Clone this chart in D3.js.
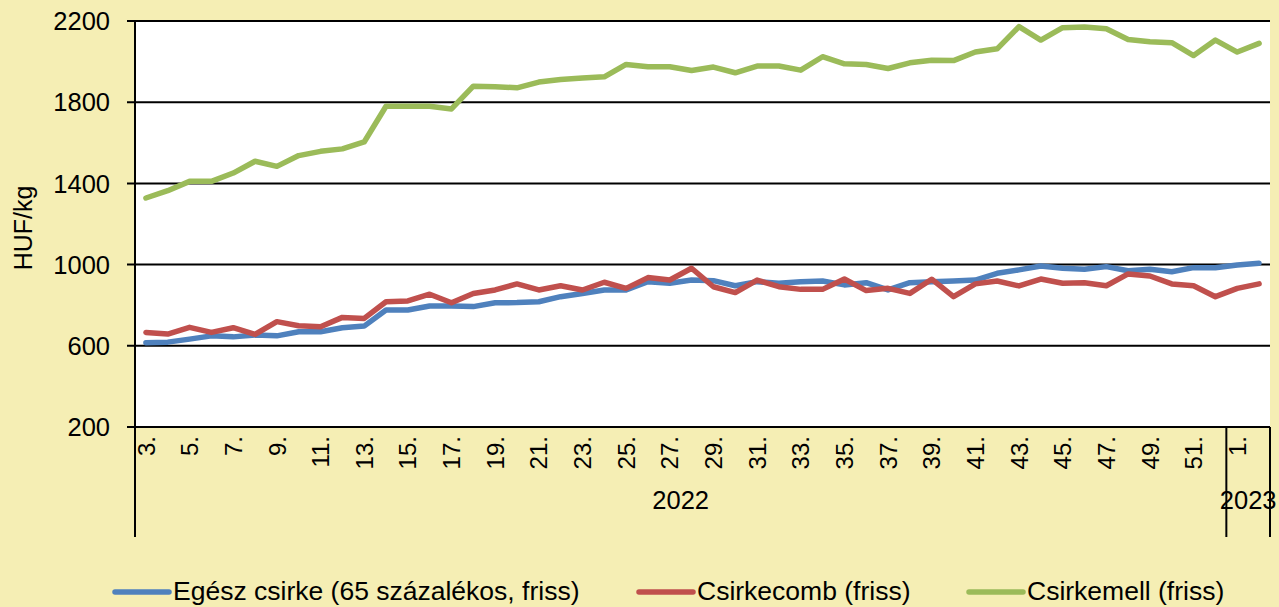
<!DOCTYPE html>
<html>
<head>
<meta charset="utf-8">
<script src="https://cdn.jsdelivr.net/npm/d3@7"></script>
<style>
  body { margin: 0; background: #f5eeb4; }
  svg { display: block; font-family: "Liberation Sans", Arial, sans-serif; }
</style>
</head>
<body>
<div id="chart"></div>
<script>
// weeks: 2022 week 3..52, then 2023 week 1..2
const weeks = ["3.","4.","5.","6.","7.","8.","9.","10.","11.","12.","13.","14.","15.","16.","17.","18.",
  "19.","20.","21.","22.","23.","24.","25.","26.","27.","28.","29.","30.","31.","32.","33.","34.",
  "35.","36.","37.","38.","39.","40.","41.","42.","43.","44.","45.","46.","47.","48.","49.","50.",
  "51.","52.","1.","2."];
const years = ["2022","2023"];
const yearOf = weeks.map((w, i) => i < 50 ? "2022" : "2023");
const yTicks = [200, 600, 1000, 1400, 1800, 2200];

const seriesNames = ["Egész csirke (65 százalékos, friss)", "Csirkecomb (friss)", "Csirkemell (friss)"];

const egesz = [615,618,633,649,644,653,649,669,669,689,697,776,776,796,796,793,812,813,
  817,842,858,875,875,916,908,924,921,896,916,908,916,919,900,911,875,
  911,916,919,924,957,974,993,982,977,990,970,977,965,985,985,998,1007];

const comb = [666,658,691,666,689,656,719,699,694,740,735,817,821,854,812,858,875,905,
  875,896,875,913,883,936,924,982,891,862,924,891,878,878,929,872,883,
  858,928,842,905,919,895,929,908,911,896,954,944,905,896,842,883,905];

const mell = [1328,1364,1410,1410,1451,1509,1484,1537,1558,1570,1604,1780,1780,1780,1767,1879,1876,1871,
  1899,1912,1919,1925,1986,1975,1975,1956,1973,1945,1978,1978,1958,2024,1989,1986,1966,
  1994,2007,2005,2047,2063,2172,2106,2167,2170,2162,2109,2098,2093,2030,2106,2047,2090];

const colors = ["#4f81bd", "#c0504d", "#9bbb59"];
const allSeries = [egesz, comb, mell];

const w = 1279, h = 607;
const plotL = 135, plotR = 1270, plotT = 21, plotB = 427;

const svg = d3.select("#chart").append("svg")
  .attr("width", w).attr("height", h);

svg.append("rect").attr("width", w).attr("height", h).attr("fill", "#f5eeb4");

const x = d3.scaleBand()
  .domain(d3.range(weeks.length))
  .range([plotL, plotR])
  .padding(0);

const y = d3.scaleLinear()
  .domain([200, 2200])
  .range([plotB, plotT]);

// plot area
svg.append("rect")
  .attr("x", plotL).attr("y", plotT)
  .attr("width", plotR - plotL).attr("height", plotB - plotT)
  .attr("fill", "#fff");

// grid lines
svg.append("g")
  .selectAll("line")
  .data(yTicks)
  .join("line")
  .attr("x1", plotL - 8).attr("x2", plotR)
  .attr("y1", d => y(d)).attr("y2", d => y(d))
  .attr("stroke", "#000").attr("stroke-width", 2);

// y axis labels
svg.append("g")
  .selectAll("text")
  .data(yTicks)
  .join("text")
  .attr("x", 110).attr("y", d => y(d))
  .attr("dy", "0.36em")
  .attr("text-anchor", "end")
  .attr("font-size", 25.5)
  .text(d => d);

svg.append("text")
  .attr("transform", "translate(32,228) rotate(-90)")
  .attr("text-anchor", "middle")
  .attr("font-size", 25)
  .text("HUF/kg");

// lines
const line = d3.line()
  .x((d, i) => x(i) + x.bandwidth() / 2)
  .y(d => y(d));

svg.append("g")
  .selectAll("path")
  .data(allSeries)
  .join("path")
  .attr("d", d => line(d))
  .attr("fill", "none")
  .attr("stroke", (d, i) => colors[i])
  .attr("stroke-width", 5.5)
  .attr("stroke-linejoin", "round")
  .attr("stroke-linecap", "round");

// category axis: left line, year separator, right end
const firstYear2023 = yearOf.indexOf("2023");
svg.append("line")
  .attr("x1", plotL).attr("x2", plotL)
  .attr("y1", plotT).attr("y2", 537)
  .attr("stroke", "#000").attr("stroke-width", 2);
[x(firstYear2023), plotR].forEach(xx => {
  svg.append("line")
    .attr("x1", xx).attr("x2", xx)
    .attr("y1", plotB).attr("y2", 537)
    .attr("stroke", "#000").attr("stroke-width", 2);
});

// week labels (every other)
svg.append("g")
  .selectAll("text")
  .data(weeks.map((d, i) => [d, i]).filter(d => d[1] % 2 === 0))
  .join("text")
  .attr("transform", d => "translate(" + (x(d[1]) + x.bandwidth() / 2) + ",436) rotate(-90)")
  .attr("dy", "0.36em")
  .attr("text-anchor", "end")
  .attr("font-size", 24)
  .text(d => d[0]);

// year labels
years.forEach(yr => {
  const idx = yearOf.map((v, i) => v === yr ? i : -1).filter(i => i >= 0);
  const x0 = x(idx[0]), x1 = x(idx[idx.length - 1]) + x.bandwidth();
  svg.append("text")
    .attr("x", (x0 + x1) / 2).attr("y", 509)
    .attr("text-anchor", "middle")
    .attr("font-size", 25.5)
    .text(yr);
});

// legend
const legendX = [115, 639, 969];
const legend = svg.append("g")
  .selectAll("g")
  .data(seriesNames)
  .join("g")
  .attr("transform", (d, i) => "translate(" + legendX[i] + ",592)");
legend.append("line")
  .attr("x1", 0).attr("x2", 54)
  .attr("stroke", (d, i) => colors[i])
  .attr("stroke-width", 5.5)
  .attr("stroke-linecap", "round");
legend.append("text")
  .attr("x", 58).attr("y", 8)
  .attr("font-size", 26.5)
  .text(d => d);
</script>
</body>
</html>
